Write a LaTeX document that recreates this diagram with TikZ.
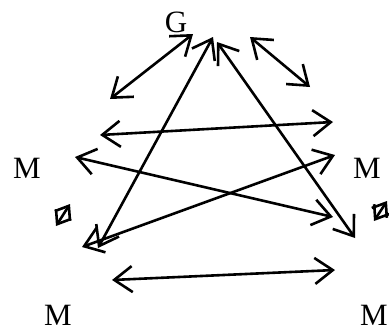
\documentclass[tikz,border=0pt]{standalone}
\usepackage{fontspec}
\setmainfont{Liberation Serif}
\usepackage{tikz}
\usetikzlibrary{arrows.meta}

\begin{document}
\begin{tikzpicture}[
    x=0.5pt, y=-0.5pt,
    lett/.style={inner sep=0pt, font=\fontsize{15.5}{18}\selectfont},
    arrow/.style={{Straight Barb[length=9pt,width=13pt]}-{Straight Barb[length=9pt,width=13pt]}, line width=1.3pt},
    tiny/.style={{Straight Barb[length=6pt,width=9pt]}-{Straight Barb[length=6pt,width=9pt]}, line width=1.3pt}
]
\useasboundingbox (0,0) rectangle (389,332);

%% ── Letters ──────────────────────────────────────────────────────────
\node[lett] (g)      at (176, 22)  {G};
\node[lett] (mleft)  at ( 27,168)  {M};
\node[lett] (mright) at (367,168)  {M};
\node[lett] (mbl)    at ( 58,315)  {M};
\node[lett] (mbr)    at (374,315)  {M};

%% ── Arrow end points ─────────────────────────────────────────────────
\coordinate (gl1) at (110, 99);  \coordinate (gl2) at (193, 34);
\coordinate (gr1) at (250, 37);  \coordinate (gr2) at (310, 87);
\coordinate (ga1) at (213, 37);  \coordinate (ga2) at ( 98,248);
\coordinate (gb1) at (217, 42);  \coordinate (gb2) at (355,238);
\coordinate (h1)  at (100,135);  \coordinate (h2)  at (333,122);
\coordinate (x1)  at ( 75,157);  \coordinate (x2)  at (333,217);
\coordinate (y1)  at ( 82,247);  \coordinate (y2)  at (335,155);
\coordinate (b1)  at (112,280);  \coordinate (b2)  at (335,270);
\coordinate (sl1) at ( 56,226);  \coordinate (sl2) at ( 70,204);
\coordinate (sr1) at (374,221);  \coordinate (sr2) at (387,201);

%% ── Arrows ───────────────────────────────────────────────────────────
\draw[arrow] (gl1) -- (gl2);
\draw[arrow] (gr1) -- (gr2);
\draw[arrow] (ga1) -- (ga2);
\draw[arrow] (gb1) -- (gb2);
\draw[arrow] (h1)  -- (h2);
\draw[arrow] (x1)  -- (x2);
\draw[arrow] (y1)  -- (y2);
\draw[arrow] (b1)  -- (b2);

%% small marks beside the middle letters
\draw[tiny] (sl1) -- (sl2);
\draw[tiny] (sr1) -- (sr2);

\end{tikzpicture}
\end{document}
